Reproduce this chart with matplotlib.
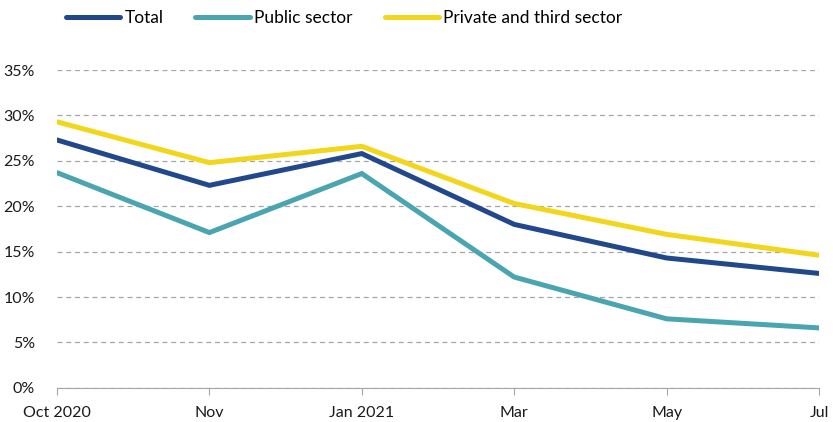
import matplotlib
matplotlib.use("Agg")
import matplotlib.pyplot as plt
from matplotlib.ticker import FuncFormatter

MONTHS = ["Oct 2020", "Nov", "Jan 2021", "Mar", "May", "Jul"]
TOTAL = [27.3, 22.3, 25.8, 18.0, 14.3, 12.6]
PUBLIC = [23.7, 17.1, 23.6, 12.2, 7.6, 6.6]
PRIVATE = [29.3, 24.8, 26.6, 20.3, 16.9, 14.6]

SERIES = [
    ("Total", TOTAL, "#22488c"),
    ("Public sector", PUBLIC, "#4aa5b0"),
    ("Private and third sector", PRIVATE, "#f2d61c"),
]


def main():
    plt.rcParams["font.family"] = ["Lato", "DejaVu Sans"]
    fig = plt.figure(figsize=(8.33, 4.22), dpi=100)
    ax = fig.add_axes([0.0684, 0.081, 0.9148, 0.753])

    x = list(range(len(MONTHS)))
    for label, values, color in SERIES:
        ax.plot(x, values, color=color, linewidth=3.6, label=label,
                solid_capstyle="round", solid_joinstyle="miter")

    ax.set_xlim(0, len(MONTHS) - 1)
    ax.set_ylim(0, 35)
    ax.set_yticks(range(0, 36, 5))
    ax.yaxis.set_major_formatter(FuncFormatter(lambda v, _: f"{v:.0f}%"))
    ax.set_xticks(x)
    ax.set_xticklabels(MONTHS)
    ax.grid(axis="y", color="#a6a6a6", linestyle=(0, (4, 3)), linewidth=0.9)
    ax.set_axisbelow(True)

    for side in ["left", "right", "top"]:
        ax.spines[side].set_visible(False)
    ax.spines["bottom"].set_color("#a6a6a6")
    ax.tick_params(axis="y", length=0, pad=16, labelsize=11.5, labelcolor="#1a1a1a")
    ax.tick_params(axis="x", length=5, color="#a6a6a6", pad=8, labelsize=11.5,
                   labelcolor="#1a1a1a")

    fig.legend(loc="center left", bbox_to_anchor=(0.079, 0.957), ncol=3,
               frameon=False, fontsize=12.5, handlelength=3.15, handletextpad=0.22,
               columnspacing=1.85, borderaxespad=0, borderpad=0)

    fig.savefig("out.png", dpi=100)
    plt.close(fig)


if __name__ == "__main__":
    main()
